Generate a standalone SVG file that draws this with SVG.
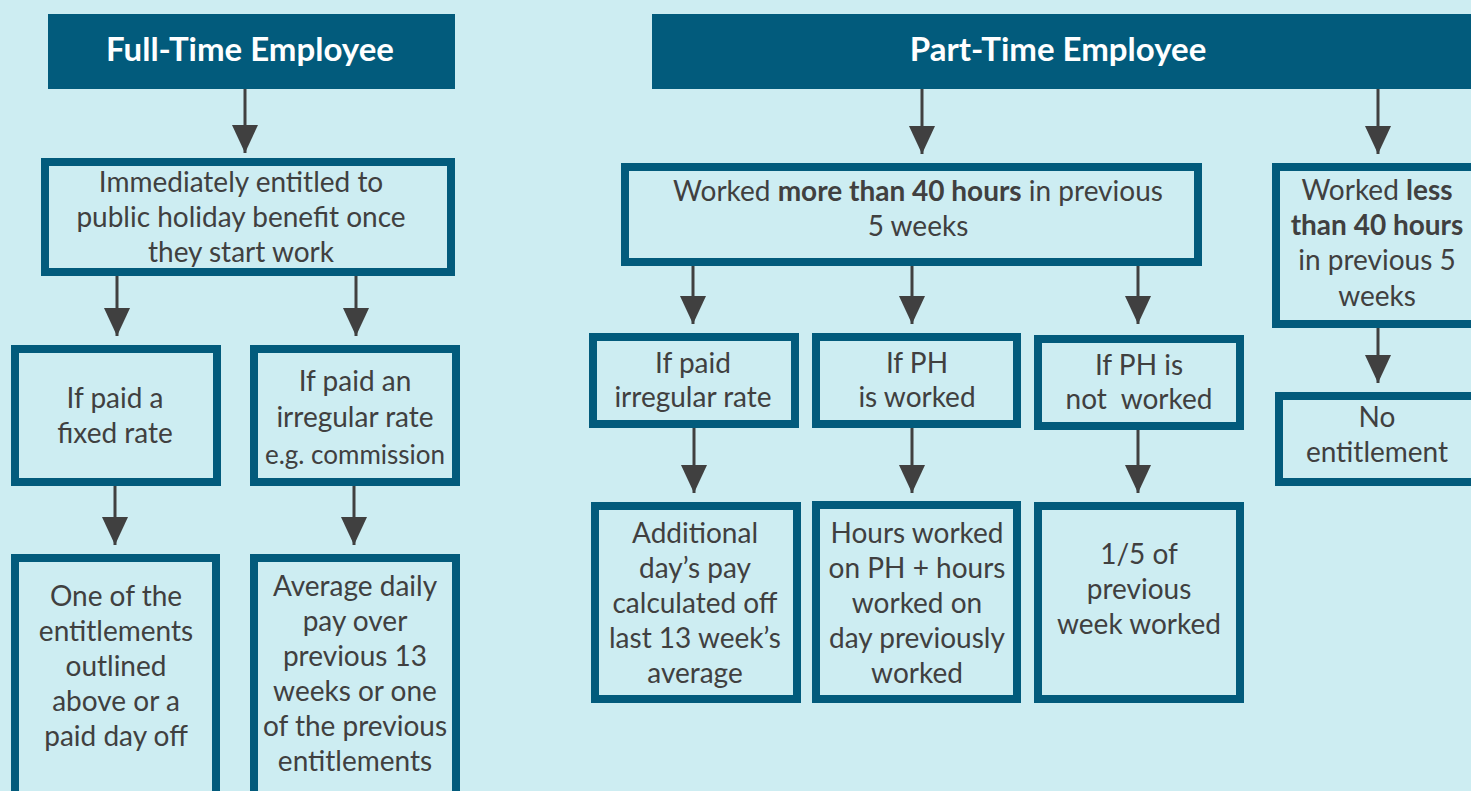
<svg xmlns="http://www.w3.org/2000/svg" width="1471" height="791" viewBox="0 0 1471 791">
<defs>
<style>
.bg{fill:#cdedf2}
.hdr{fill:#025b7c}
.box{fill:#cdedf2;stroke:#025b7c;stroke-width:8}
.ht{font-family:Lato,"Open Sans",sans-serif;font-weight:bold;font-size:33px;fill:#ffffff;text-anchor:middle}
.t{font-family:Lato,"Open Sans",sans-serif;font-size:28px;fill:#404040;text-anchor:middle}
.s{font-size:26px}
.b{font-weight:bold}
.c{stroke:#404040;stroke-width:3;fill:none;marker-end:url(#ah)}
</style>
<marker id="ah" markerUnits="userSpaceOnUse" markerWidth="28" markerHeight="26" refX="28" refY="13" orient="auto" viewBox="0 0 28 26">
<path d="M0,0 L28,13 L0,26 z" fill="#404040"/>
</marker>
</defs>
<rect class="bg" x="0" y="0" width="1471" height="791"/>

<g id="connectors">
<line class="c" x1="245" y1="89" x2="245" y2="153"/>
<line class="c" x1="117" y1="276" x2="117" y2="336"/>
<line class="c" x1="356" y1="276" x2="356" y2="336"/>
<line class="c" x1="115" y1="486" x2="115" y2="545"/>
<line class="c" x1="354" y1="486" x2="354" y2="545"/>
<line class="c" x1="922" y1="89" x2="922" y2="154"/>
<line class="c" x1="1378" y1="89" x2="1378" y2="154"/>
<line class="c" x1="693" y1="266" x2="693" y2="324"/>
<line class="c" x1="912" y1="266" x2="912" y2="324"/>
<line class="c" x1="1138" y1="266" x2="1138" y2="324"/>
<line class="c" x1="1378" y1="328" x2="1378" y2="383"/>
<line class="c" x1="694" y1="428" x2="694" y2="493"/>
<line class="c" x1="912" y1="428" x2="912" y2="493"/>
<line class="c" x1="1138" y1="430" x2="1138" y2="493"/>
</g>

<g id="ft-header">
<rect class="hdr" x="48" y="14" width="407" height="75"/>
<text class="ht" x="250" y="61">Full-Time Employee</text>
</g>

<g id="pt-header">
<rect class="hdr" x="652" y="14" width="825" height="75"/>
<text class="ht" x="1058" y="61">Part-Time Employee</text>
</g>

<g id="ft-immediate">
<rect class="box" x="45" y="162" width="406" height="110"/>
<text class="t" x="241" y="192">Immediately entitled to</text>
<text class="t" x="241" y="227">public holiday benefit once</text>
<text class="t" x="241" y="262">they start work</text>
</g>

<g id="ft-fixed">
<rect class="box" x="15" y="349" width="202" height="133"/>
<text class="t" x="115" y="408">If paid a</text>
<text class="t" x="115" y="443">fixed rate</text>
</g>

<g id="ft-irregular">
<rect class="box" x="254" y="349" width="202" height="133"/>
<text class="t" x="355" y="391">If paid an</text>
<text class="t" x="355" y="427">irregular rate</text>
<text class="t s" x="355" y="464">e.g. commission</text>
</g>

<g id="ft-fixed-result">
<rect class="box" x="15" y="558" width="201" height="250"/>
<text class="t" x="116" y="606">One of the</text>
<text class="t" x="116" y="641">entitlements</text>
<text class="t" x="116" y="676">outlined</text>
<text class="t" x="116" y="711">above or a</text>
<text class="t" x="116" y="746">paid day off</text>
</g>

<g id="ft-irregular-result">
<rect class="box" x="254" y="558" width="202" height="250"/>
<text class="t" x="355" y="596">Average daily</text>
<text class="t" x="355" y="631">pay over</text>
<text class="t" x="355" y="666">previous 13</text>
<text class="t" x="355" y="701">weeks or one</text>
<text class="t" x="355" y="736">of the previous</text>
<text class="t" x="355" y="771">entitlements</text>
</g>

<g id="pt-more">
<rect class="box" x="625" y="167" width="573" height="95"/>
<text class="t" x="918" y="201">Worked <tspan class="b">more than 40 hours</tspan> in previous</text>
<text class="t" x="918" y="236">5 weeks</text>
</g>

<g id="pt-less">
<rect class="box" x="1276" y="167" width="200" height="157"/>
<text class="t" x="1377" y="200">Worked <tspan class="b">less</tspan></text>
<text class="t b" x="1377" y="235">than 40 hours</text>
<text class="t" x="1377" y="270">in previous 5</text>
<text class="t" x="1377" y="306">weeks</text>
</g>

<g id="pt-none">
<rect class="box" x="1279" y="396" width="200" height="86"/>
<text class="t" x="1377" y="427">No</text>
<text class="t" x="1377" y="462">entitlement</text>
</g>

<g id="pt-irregular">
<rect class="box" x="593" y="337" width="202" height="87"/>
<text class="t" x="693" y="373">If paid</text>
<text class="t" x="693" y="407">irregular rate</text>
</g>

<g id="pt-worked">
<rect class="box" x="816" y="337" width="201" height="87"/>
<text class="t" x="917" y="373">If PH</text>
<text class="t" x="917" y="407">is worked</text>
</g>

<g id="pt-notworked">
<rect class="box" x="1038" y="339" width="202" height="87"/>
<text class="t" x="1139" y="375" xml:space="preserve">If PH is</text>
<text class="t" x="1139" y="409" xml:space="preserve">not  worked</text>
</g>

<g id="pt-irregular-result">
<rect class="box" x="595" y="506" width="202" height="193"/>
<text class="t" x="695" y="543">Additional</text>
<text class="t" x="695" y="578">day’s pay</text>
<text class="t" x="695" y="613">calculated off</text>
<text class="t" x="695" y="648">last 13 week’s</text>
<text class="t" x="695" y="683">average</text>
</g>

<g id="pt-worked-result">
<rect class="box" x="816" y="505" width="201" height="194"/>
<text class="t" x="917" y="543">Hours worked</text>
<text class="t" x="917" y="578">on PH + hours</text>
<text class="t" x="917" y="613">worked on</text>
<text class="t" x="917" y="648">day previously</text>
<text class="t" x="917" y="683">worked</text>
</g>

<g id="pt-notworked-result">
<rect class="box" x="1038" y="506" width="202" height="193"/>
<text class="t" x="1139" y="564">1/5 of</text>
<text class="t" x="1139" y="599">previous</text>
<text class="t" x="1139" y="634">week worked</text>
</g>
</svg>
